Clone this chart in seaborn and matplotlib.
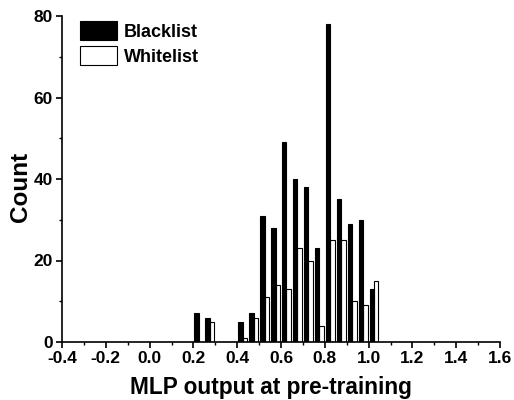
import matplotlib
matplotlib.use("Agg")
import matplotlib.pyplot as plt
import seaborn as sns
import pandas as pd
import numpy as np

bin_starts = [0.20, 0.25, 0.30, 0.35, 0.40, 0.45, 0.50, 0.55, 0.60, 0.65,
              0.70, 0.75, 0.80, 0.85, 0.90, 0.95, 1.00]
blacklist = [7, 6, 0, 0, 5, 7, 31, 28, 49, 40, 38, 23, 78, 35, 29, 30, 13]
whitelist = [0, 5, 0, 0, 1, 6, 11, 14, 13, 23, 20, 4, 25, 25, 10, 9, 15]
groups = ["Blacklist", "Whitelist"]
x_ticks = [-0.4, -0.2, 0.0, 0.2, 0.4, 0.6, 0.8, 1.0, 1.2, 1.4, 1.6]
y_ticks = [0, 20, 40, 60, 80]

bw = 0.05
centers = [round(b + bw / 2, 4) for b in bin_starts]
df = pd.DataFrame({
    "x": centers * 2,
    "count": blacklist + whitelist,
    "group": [groups[0]] * len(centers) + [groups[1]] * len(centers),
})

sns.set_style("ticks", {"axes.edgecolor": "black", "text.color": "black",
                        "xtick.color": "black", "ytick.color": "black",
                        "axes.labelcolor": "black"})
plt.rcParams["font.family"] = ["Liberation Sans", "DejaVu Sans"]
plt.rcParams["font.weight"] = "bold"

fig = plt.figure(figsize=(5.14, 4.0), dpi=100)
ax = fig.add_axes([62 / 514, 1 - 342 / 400, 438 / 514, 326 / 400])

sns.histplot(data=df, x="x", weights="count", hue="group", hue_order=groups,
             multiple="dodge", binwidth=bw, binrange=(0.2, 1.05), shrink=0.8,
             palette={"Blacklist": "black", "Whitelist": "white"},
             edgecolor="black", linewidth=0.8, alpha=1, ax=ax)

ax.set_xlim(-0.4, 1.6)
ax.set_ylim(0, 80)
ax.set_xticks(x_ticks)
ax.set_xticklabels([f"{t:.1f}" for t in x_ticks])
ax.set_yticks(y_ticks)
ax.set_xticks(np.arange(-0.3, 1.6, 0.2), minor=True)
ax.set_yticks([10, 30, 50, 70], minor=True)
ax.tick_params(axis="both", which="major", direction="out", length=4.5, width=1.2,
               labelsize=12.5, colors="black", pad=2)
ax.tick_params(axis="both", which="minor", direction="out", length=2.5, width=1.0,
               colors="black")
for lab in ax.get_xticklabels() + ax.get_yticklabels():
    lab.set_fontweight("bold")
for s in ["left", "bottom"]:
    ax.spines[s].set_linewidth(1.2)
    ax.spines[s].set_color("black")
sns.despine(ax=ax)

ax.set_xlabel("MLP output at pre-training", fontsize=16.3, fontweight="bold",
              color="black")
ax.xaxis.set_label_coords(0.476, -0.104)
ax.set_ylabel("Count", fontsize=17.5, fontweight="bold", color="black")
ax.yaxis.set_label_coords(-0.068, 0.477)

sns.move_legend(ax, "upper left", bbox_to_anchor=(0.041, 0.985), frameon=False,
                title=None, fontsize=13, handlelength=2.05, handleheight=1.25,
                labelspacing=0.3, handletextpad=0.4, borderaxespad=0,
                borderpad=0)
for t in ax.get_legend().get_texts():
    t.set_fontweight("bold")
    t.set_color("black")

fig.savefig("out.png", dpi=100)
